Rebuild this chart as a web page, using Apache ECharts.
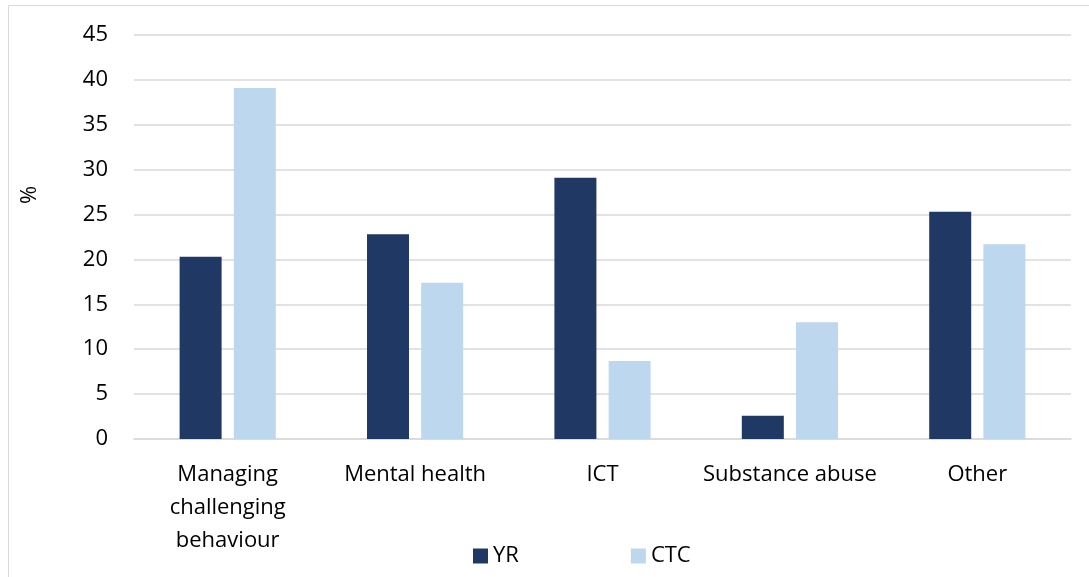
<!DOCTYPE html>
<html>
<head>
<meta charset="utf-8">
<script src="https://cdn.jsdelivr.net/npm/echarts@6/dist/echarts.min.js"></script>
<style>
  html, body { margin: 0; padding: 0; background: #fff; }
  #main { width: 1089px; height: 577px; }
</style>
</head>
<body>
<div id="main"></div>
<script>
// categories and values
var categories = ['Managing\nchallenging\nbehaviour', 'Mental health', 'ICT', 'Substance abuse', 'Other'];
var yrValues = [20.3, 22.8, 29.1, 2.6, 25.3];
var ctcValues = [39.1, 17.4, 8.7, 13.0, 21.7];

var font = 'Open Sans';
var chart = echarts.init(document.getElementById('main'));

var option = {
    animation: false,
    backgroundColor: '#fff',
    textStyle: { fontFamily: font },
    graphic: [{
        type: 'rect',
        shape: { x: 8.5, y: 5.5, width: 1100, height: 600 },
        style: { fill: 'none', stroke: '#d9d9d9', lineWidth: 1 },
        silent: true
    }, {
        // y axis title, sits above the axis middle in the original
        type: 'text',
        x: 30,
        y: 195,
        rotation: Math.PI / 2,
        style: {
            text: '%',
            fontSize: 22,
            fontFamily: font,
            fill: '#000',
            align: 'center',
            verticalAlign: 'middle'
        },
        silent: true
    }],
    grid: {
        left: 134,
        right: 18,
        top: 35,
        bottom: 138
    },
    legend: {
        bottom: 5,
        left: 468,
        itemWidth: 15,
        itemHeight: 15,
        itemGap: 112,
        icon: 'rect',
        textStyle: { fontSize: 22, color: '#000', fontFamily: font },
        data: ['YR', 'CTC']
    },
    xAxis: {
        type: 'category',
        data: categories,
        axisLine: { show: true, lineStyle: { color: '#d9d9d9', width: 1.5 } },
        axisTick: { show: false },
        axisLabel: {
            interval: 0,
            fontSize: 22,
            color: '#000',
            lineHeight: 33,
            margin: 19,
            fontFamily: font
        }
    },
    yAxis: {
        type: 'value',
        min: 0,
        max: 45,
        interval: 5,
        axisLine: { show: false },
        axisTick: { show: false },
        splitLine: { lineStyle: { color: '#d9d9d9', width: 1.5 } },
        axisLabel: { fontSize: 22, color: '#000', margin: 26, fontFamily: font }
    },
    series: [{
        name: 'YR',
        type: 'bar',
        data: yrValues,
        barWidth: 42,
        barGap: '29%',
        itemStyle: { color: '#203864' }
    }, {
        name: 'CTC',
        type: 'bar',
        data: ctcValues,
        barWidth: 42,
        itemStyle: { color: '#bdd7ee' }
    }]
};

chart.setOption(option);
</script>
</body>
</html>
